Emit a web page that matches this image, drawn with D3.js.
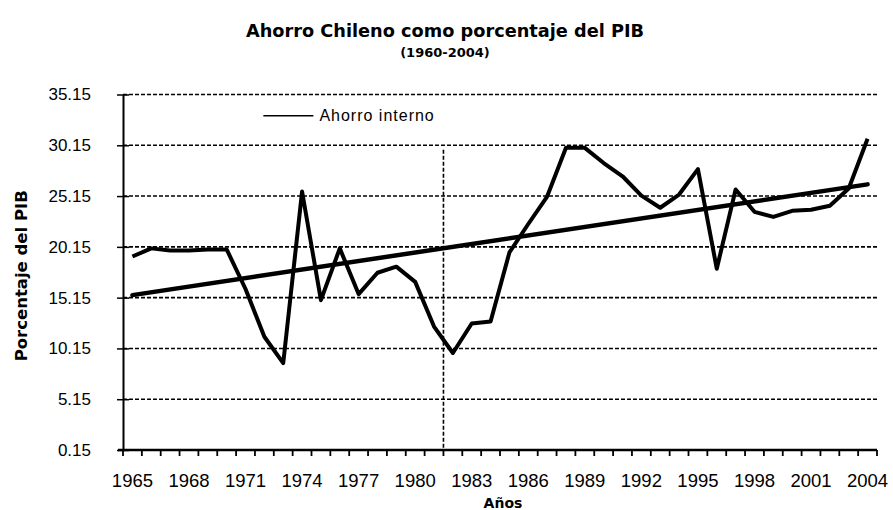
<!doctype html>
<html>
  <head>
    <script src="https://d3js.org/d3.v7.min.js" type="text/javascript"></script>
    <style>
      body { margin: 0; background: #fff; }
    </style>
  </head>

  <body>
    <script type="text/javascript">

    /***********************************************/
    /******************** Data *********************/
    /***********************************************/

    var years = [1965, 1966, 1967, 1968, 1969, 1970, 1971, 1972, 1973, 1974,
                 1975, 1976, 1977, 1978, 1979, 1980, 1981, 1982, 1983, 1984,
                 1985, 1986, 1987, 1988, 1989, 1990, 1991, 1992, 1993, 1994,
                 1995, 1996, 1997, 1998, 1999, 2000, 2001, 2002, 2003, 2004];

    var ahorroInterno = [19.2, 20.0, 19.8, 19.8, 19.9, 19.9, 16.0, 11.3,  8.7, 25.6,
                         14.9, 20.0, 15.5, 17.6, 18.2, 16.7, 12.3,  9.7, 12.6, 12.8,
                         19.6, 22.4, 25.1, 29.9, 29.9, 28.4, 27.1, 25.2, 24.0, 25.3,
                         27.8, 18.0, 25.8, 23.6, 23.1, 23.7, 23.8, 24.2, 25.9, 30.8];

    // linear trend, value at first and last year
    var trendYears  = [1965, 2004];
    var trendValues = [15.4, 26.3];

    var yTicks      = [0.15, 5.15, 10.15, 15.15, 20.15, 25.15, 30.15, 35.15];
    var xTickLabels = [1965, 1968, 1971, 1974, 1977, 1980, 1983, 1986, 1989, 1992, 1995, 1998, 2001, 2004];

    // vertical marker (1982 crisis)
    var markerYear  = 1982;
    var markerTop   = 29.7;

    var title       = "Ahorro Chileno como porcentaje del PIB";
    var subtitle    = "(1960-2004)";
    var yTitle      = "Porcentaje del PIB";
    var xTitle      = "Años";
    var legendLabel = "Ahorro interno";

    /***********************************************/
    /********** Const and Var declarations *********/
    /***********************************************/

    var width = 893, height = 510;
    const margin = { top: 94.5, right: 16, bottom: 60, left: 123 };
    const plotW  = width - margin.left - margin.right;
    const plotH  = height - margin.top - margin.bottom;
    const bold   = "'DejaVu Sans', sans-serif";
    const plain  = "'Liberation Sans', Arial, sans-serif";

    const x = d3.scaleBand().domain(years).range([0, plotW]).padding(0);
    const y = d3.scaleLinear().domain([0.15, 35.15]).range([plotH, 0]);
    const cx = d => x(d) + x.bandwidth() / 2;

    const svg = d3.select('body')
                  .append('svg')
                   .attr('width', width)
                   .attr('height', height);

    const g = svg.append('g')
                 .attr('transform', 'translate(' + margin.left + ',' + margin.top + ')');

    /***********************************************/
    /****************** Gridlines ******************/
    /***********************************************/

    g.append('g')
      .selectAll('line')
      .data(yTicks.slice(1))
      .enter()
        .append('line')
        .attr('x1', 0)
        .attr('x2', plotW)
        .attr('y1', d => y(d))
        .attr('y2', d => y(d))
        .style('stroke', '#000')
        .style('stroke-width', 1.6)
        .style('stroke-dasharray', '4,2');

    g.append('line')
      .attr('x1', x(markerYear))
      .attr('x2', x(markerYear))
      .attr('y1', y(markerTop))
      .attr('y2', plotH)
      .style('stroke', '#000')
      .style('stroke-width', 1.6)
      .style('stroke-dasharray', '4,2');

    /***********************************************/
    /********************* Axes ********************/
    /***********************************************/

    const yAxis = g.append('g')
      .call(d3.axisLeft(y).tickValues(yTicks).tickSize(6).tickSizeOuter(0).tickFormat(d3.format('.2f')));
    yAxis.select('.domain').style('stroke-width', 2);
    yAxis.selectAll('.tick line').attr('x1', 6).style('stroke-width', 1.5);
    yAxis.selectAll('.tick text')
         .attr('x', -32)
         .style('font-family', plain)
         .style('font-size', '17px')
         .style('fill', '#000');

    const xAxis = g.append('g')
      .attr('transform', 'translate(0,' + plotH + ')')
      .call(d3.axisBottom(x).tickSize(0).tickSizeOuter(0)
              .tickValues(xTickLabels));
    xAxis.select('.domain').style('stroke-width', 2.5).attr('d', 'M-5,0H' + plotW);
    xAxis.selectAll('.tick text')
         .attr('y', 24)
         .style('font-family', plain)
         .style('font-size', '18.5px')
         .style('fill', '#000');

    // tick marks on category boundaries
    xAxis.append('g')
      .selectAll('line')
      .data(years.concat(['end']))
      .enter()
        .append('line')
        .attr('x1', d => d === 'end' ? plotW : x(d))
        .attr('x2', d => d === 'end' ? plotW : x(d))
        .attr('y1', 0)
        .attr('y2', 6)
        .style('stroke', '#000')
        .style('stroke-width', 1.8);

    /***********************************************/
    /******************** Series *******************/
    /***********************************************/

    const line = d3.line()
      .x((d, i) => cx(years[i]))
      .y(d => y(d));

    g.append('path')
      .datum(ahorroInterno)
      .attr('d', line)
      .style('fill', 'none')
      .style('stroke', '#000')
      .style('stroke-width', 4)
      .style('stroke-linejoin', 'round');

    g.append('path')
      .datum(trendValues)
      .attr('d', d3.line().x((d, i) => cx(trendYears[i])).y(d => y(d)))
      .style('fill', 'none')
      .style('stroke', '#000')
      .style('stroke-width', 4.5)
      .style('stroke-linecap', 'round');

    /***********************************************/
    /******************** Legend *******************/
    /***********************************************/

    const legend = g.append('g')
      .attr('transform', 'translate(' + (cx(1972) - 1) + ',' + y(33.05) + ')');
    legend.append('line')
      .attr('x1', 0).attr('x2', 50)
      .style('stroke', '#000')
      .style('stroke-width', 1.5);
    legend.append('text')
      .attr('x', 56)
      .attr('dy', '0.35em')
      .style('font-family', plain)
      .style('font-size', '16px')
      .style('letter-spacing', '1px')
      .text(legendLabel);

    /***********************************************/
    /******************** Titles *******************/
    /***********************************************/

    svg.append('text')
      .attr('x', 445)
      .attr('y', 37)
      .attr('text-anchor', 'middle')
      .attr('textLength', 398)
      .attr('lengthAdjust', 'spacingAndGlyphs')
      .style('font-family', bold)
      .style('font-weight', 'bold')
      .style('font-size', '17px')
      .text(title);

    svg.append('text')
      .attr('x', 445)
      .attr('y', 57)
      .attr('text-anchor', 'middle')
      .style('font-family', bold)
      .style('font-weight', 'bold')
      .style('font-size', '13px')
      .text(subtitle);

    svg.append('text')
      .attr('transform', 'translate(27,' + (margin.top + y(17.3)) + ') rotate(-90)')
      .attr('text-anchor', 'middle')
      .style('font-family', bold)
      .style('font-weight', 'bold')
      .style('font-size', '16.5px')
      .text(yTitle);

    svg.append('text')
      .attr('x', 503)
      .attr('y', 508)
      .attr('text-anchor', 'middle')
      .style('font-family', bold)
      .style('font-weight', 'bold')
      .style('font-size', '14px')
      .text(xTitle);

    </script>
  </body>
</html>
